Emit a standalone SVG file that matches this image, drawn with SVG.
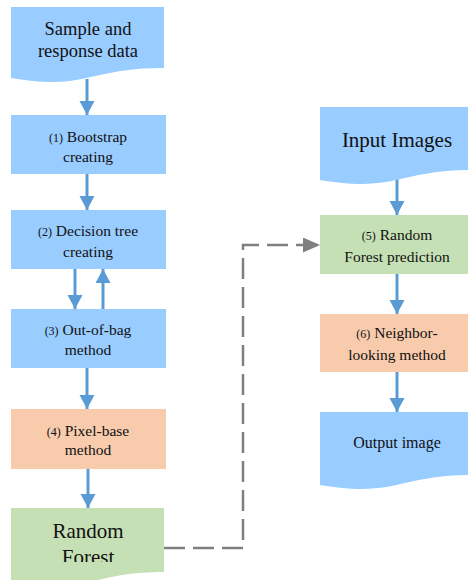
<svg xmlns="http://www.w3.org/2000/svg" width="468" height="580" viewBox="0 0 468 580">
<defs>
<style>
.blue{fill:#99CCFF}
.green{fill:#C5E0B4}
.orange{fill:#F8CBAD}
text{font-family:"Liberation Serif","Times New Roman",serif;fill:#111;text-anchor:middle}
.s{font-size:15.5px}
.n{font-size:12px}
.m{font-size:18.5px}
.l{font-size:21px}
.o{font-size:16px}
.arr{stroke:#5B9BD5;stroke-width:3;fill:none}
.dash{stroke:#7F7F7F;stroke-width:2.5;fill:none;stroke-dasharray:21 8}
</style>
<marker id="ab" markerUnits="userSpaceOnUse" markerWidth="16" markerHeight="16" refX="14" refY="7.5" orient="auto">
<path d="M0,0 L14,7.5 L0,15 Z" fill="#5B9BD5"/>
</marker>
<marker id="ag" markerUnits="userSpaceOnUse" markerWidth="18" markerHeight="16" refX="17" refY="7.5" orient="auto">
<path d="M0,0 L17,7.5 L0,15 Z" fill="#7F7F7F"/>
</marker>
<clipPath id="rfclip"><rect x="0" y="500" width="200" height="62"/></clipPath>
</defs>

<g id="connectors">
<line class="arr" x1="87" y1="79" x2="87" y2="115" marker-end="url(#ab)"/>
<line class="arr" x1="87" y1="174" x2="87" y2="210" marker-end="url(#ab)"/>
<line class="arr" x1="75" y1="269" x2="75" y2="309" marker-end="url(#ab)"/>
<line class="arr" x1="103" y1="309" x2="103" y2="269" marker-end="url(#ab)"/>
<line class="arr" x1="87" y1="368" x2="87" y2="409" marker-end="url(#ab)"/>
<line class="arr" x1="88" y1="469" x2="88" y2="508" marker-end="url(#ab)"/>
<line class="arr" x1="397" y1="177" x2="397" y2="215" marker-end="url(#ab)"/>
<line class="arr" x1="397" y1="274" x2="397" y2="314" marker-end="url(#ab)"/>
<line class="arr" x1="397" y1="372" x2="397" y2="412" marker-end="url(#ab)"/>
<path class="dash" d="M164,548 H243 V245 H320" marker-end="url(#ag)"/>
</g>

<g id="sample">
<path class="blue" d="M11,7 H164 V68 C87,68 87,91 11,78 Z"/>
<text class="m" x="88" y="35">Sample and</text>
<text class="m" x="88" y="57">response data</text>
</g>

<g id="step1">
<rect class="blue" x="11" y="115" width="155" height="59"/>
<text class="s" x="88" y="142"><tspan class="n">(1)</tspan> Bootstrap</text>
<text class="s" x="88" y="162">creating</text>
</g>

<g id="step2">
<rect class="blue" x="11" y="210" width="155" height="59"/>
<text class="s" x="88" y="236"><tspan class="n">(2)</tspan> Decision tree</text>
<text class="s" x="88" y="257">creating</text>
</g>

<g id="step3">
<rect class="blue" x="11" y="309" width="155" height="59"/>
<text class="s" x="88" y="335"><tspan class="n">(3)</tspan> Out-of-bag</text>
<text class="s" x="88" y="355">method</text>
</g>

<g id="step4">
<rect class="orange" x="11" y="409" width="155" height="60"/>
<text class="s" x="88" y="436"><tspan class="n">(4)</tspan> Pixel-base</text>
<text class="s" x="88" y="455">method</text>
</g>

<g id="randomforest">
<path class="green" d="M11,508 H164 V572 C87,572 87,597 11,583 Z"/>
<g clip-path="url(#rfclip)">
<text class="l" x="88" y="538">Random</text>
<text class="l" x="88" y="564">Forest</text>
</g>
</g>

<g id="input">
<path class="blue" d="M320,107 H474 V170 C397,170 397,193 320,180 Z"/>
<text class="l" x="397" y="147">Input Images</text>
</g>

<g id="step5">
<rect class="green" x="320" y="215" width="154" height="59"/>
<text class="s" x="397" y="240"><tspan class="n">(5)</tspan> Random</text>
<text class="s" x="397" y="262">Forest prediction</text>
</g>

<g id="step6">
<rect class="orange" x="320" y="314" width="154" height="58"/>
<text class="s" x="397" y="338"><tspan class="n">(6)</tspan> Neighbor-</text>
<text class="s" x="397" y="360">looking method</text>
</g>

<g id="output">
<path class="blue" d="M320,412 H474 V475 C397,475 397,498 320,485 Z"/>
<text class="o" x="397" y="448">Output image</text>
</g>
</svg>
